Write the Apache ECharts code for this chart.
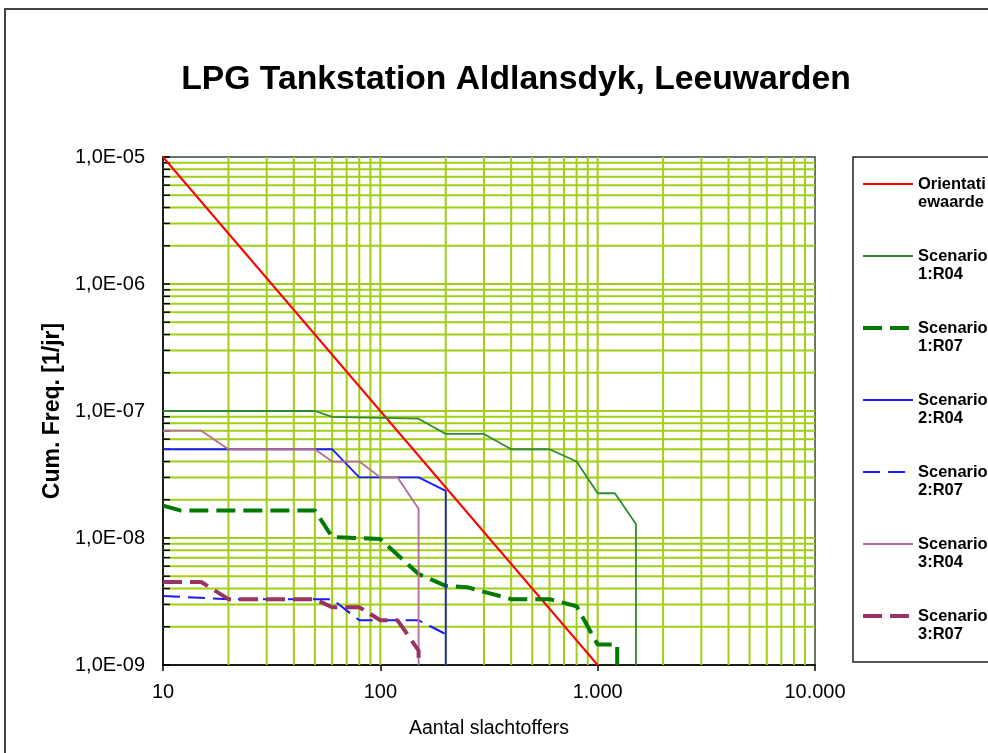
<!DOCTYPE html>
<html>
<head>
<meta charset="utf-8">
<script src="https://cdn.jsdelivr.net/npm/echarts@6/dist/echarts.min.js"></script>
<style>html,body{margin:0;padding:0;background:#fff;}#c{width:988px;height:753px;}</style>
</head>
<body>
<div id="c"></div>
<script>
// ---- data (aantal slachtoffers N, cumulatieve frequentie F [1/jr]) ----
const orientatiewaarde = [[10, 1e-5], [1000, 1e-9]];
const scenario1R04 = [[10, 1e-7], [50, 1e-7], [60, 9e-8], [150, 8.7e-8], [200, 6.6e-8], [300, 6.6e-8], [400, 5e-8], [600, 5e-8], [800, 4e-8], [1000, 2.25e-8], [1200, 2.25e-8], [1500, 1.29e-8], [1500, 1e-9]];
const scenario1R07 = [[10, 1.8e-8], [12, 1.65e-8], [50, 1.65e-8], [60, 1.02e-8], [100, 9.8e-9], [150, 5.2e-9], [200, 4.2e-9], [250, 4.1e-9], [400, 3.3e-9], [600, 3.3e-9], [800, 2.9e-9], [1000, 1.45e-9], [1230, 1.45e-9], [1230, 1e-9]];
const scenario2R04 = [[10, 5e-8], [60, 5e-8], [80, 3e-8], [150, 3e-8], [200, 2.35e-8], [200, 1e-9]];
const scenario2R07 = [[10, 3.5e-9], [20, 3.3e-9], [60, 3.3e-9], [80, 2.25e-9], [150, 2.25e-9], [200, 1.75e-9]];
const scenario3R04 = [[10, 7e-8], [15, 7e-8], [20, 5e-8], [50, 5e-8], [60, 4e-8], [80, 4e-8], [100, 3e-8], [120, 3e-8], [150, 1.7e-8], [150, 1e-9]];
const scenario3R07 = [[10, 4.5e-9], [15, 4.5e-9], [20, 3.3e-9], [50, 3.3e-9], [60, 2.85e-9], [80, 2.85e-9], [100, 2.25e-9], [120, 2.25e-9], [150, 1.3e-9], [150, 1e-9]];

const seriesNames = ['Orientatiewaarde', 'Scenario 1:R04', 'Scenario 1:R07', 'Scenario 2:R04', 'Scenario 2:R07', 'Scenario 3:R04', 'Scenario 3:R07'];
const legendLabels = ['Orientati\newaarde', 'Scenario\n1:R04', 'Scenario\n1:R07', 'Scenario\n2:R04', 'Scenario\n2:R07', 'Scenario\n3:R04', 'Scenario\n3:R07'];
const xTickLabels = ['10', '100', '1.000', '10.000'];
const yTickLabels = ['1,0E-09', '1,0E-08', '1,0E-07', '1,0E-06', '1,0E-05'];
const xDecades = [10, 100, 1000];
const yDecades = [1e-9, 1e-8, 1e-7, 1e-6];
const multipliers = [1, 2, 3, 4, 5, 6, 7, 8, 9];

const X_MIN = 10, X_MAX = 10000, Y_MIN = 1e-9, Y_MAX = 1e-5;
const FONT = '"Liberation Sans", Arial, sans-serif';
const GRID_COLOR = '#a0cf14';

// grid line values (axis scaffolding, not data)
const gridData = [];
xDecades.forEach(d => multipliers.forEach(m => { if (!(d === 10 && m === 1)) gridData.push([d * m, Y_MIN, 0]); }));
yDecades.forEach(d => multipliers.forEach(m => { if (!(d === 1e-9 && m === 1)) gridData.push([X_MIN, d * m, 1]); }));

const chart = echarts.init(document.getElementById('c'), null, {renderer: 'canvas'});

function lineSeries(name, data, color, width, type, z) {
  return {
    name: name, type: 'line', data: data, symbol: 'none', showSymbol: false,
    lineStyle: {color: color, width: width, type: type, cap: 'butt'},
    itemStyle: {color: color},
    z: z, animation: false, clip: true
  };
}

const option = {
  animation: false,
  backgroundColor: '#fff',
  title: {
    text: 'LPG Tankstation Aldlansdyk, Leeuwarden',
    left: 511, top: 58, textAlign: 'center',
    textStyle: {fontFamily: FONT, fontSize: 33.7, fontWeight: 'bold', color: '#000'}
  },
  graphic: [{
    type: 'rect', silent: true, z: 100,
    shape: {x: 5, y: 9, width: 1000, height: 800},
    style: {fill: 'none', stroke: '#444', lineWidth: 2}
  }],
  grid: {left: 163, top: 157, width: 652, height: 508, show: true, borderColor: '#3a4a3a', borderWidth: 1.5, backgroundColor: 'transparent'},
  xAxis: {
    type: 'log', logBase: 10, min: X_MIN, max: X_MAX,
    name: 'Aantal slachtoffers', nameLocation: 'middle', nameGap: 54,
    nameTextStyle: {fontFamily: FONT, fontSize: 19.5, color: '#000'},
    axisLine: {show: true, onZero: false, lineStyle: {color: '#000', width: 1.5}},
    axisTick: {show: true, inside: false, length: 6, lineStyle: {color: '#000', width: 1.5}},
    axisLabel: {
      fontFamily: FONT, fontSize: 20, color: '#000', margin: 17,
      formatter: v => xTickLabels[Math.round(Math.log10(v)) - 1]
    },
    splitLine: {show: false}, minorTick: {show: false}, minorSplitLine: {show: false}
  },
  yAxis: {
    type: 'log', logBase: 10, min: Y_MIN, max: Y_MAX,
    name: 'Cum. Freq. [1/jr]', nameLocation: 'middle', nameGap: 98,
    nameTextStyle: {fontFamily: FONT, fontSize: 23, fontWeight: 'bold', color: '#000'},
    axisLine: {show: true, onZero: false, lineStyle: {color: '#000', width: 1.5}},
    axisTick: {show: true, inside: true, length: 7, lineStyle: {color: '#000', width: 1.5}},
    axisLabel: {
      fontFamily: FONT, fontSize: 20, color: '#000', margin: 18,
      formatter: v => yTickLabels[Math.round(Math.log10(v)) + 9]
    },
    splitLine: {show: false}, minorTick: {show: false}, minorSplitLine: {show: false}
  },
  legend: {
    orient: 'vertical', left: 853, top: 157,
    padding: [0, 40, 19, 8],
    itemWidth: 50, itemHeight: 14, itemGap: 18,
    borderColor: '#222', borderWidth: 1.5, backgroundColor: '#fff',
    itemStyle: {opacity: 0},
    lineStyle: {width: 'inherit', type: 'inherit', cap: 'butt'},
    textStyle: {fontFamily: FONT, fontSize: 16.5, fontWeight: 'bold', color: '#000', lineHeight: 18},
    formatter: name => '\n' + legendLabels[seriesNames.indexOf(name)],
    data: seriesNames
  },
  series: [
    {
      type: 'custom', name: 'grid', silent: true, z: 1, clip: false,
      coordinateSystem: 'cartesian2d',
      renderItem: function (params, api) {
        const t = api.value(2);
        if (t === 0) {
          const x = api.value(0);
          const p1 = api.coord([x, Y_MIN]), p2 = api.coord([x, Y_MAX]);
          return {type: 'line', shape: {x1: p1[0], y1: p1[1], x2: p2[0], y2: p2[1]}, style: {stroke: GRID_COLOR, lineWidth: 2}};
        }
        const y = api.value(1);
        const p1 = api.coord([X_MIN, y]), p2 = api.coord([X_MAX, y]);
        return {type: 'group', children: [
          {type: 'line', shape: {x1: p1[0], y1: p1[1], x2: p2[0], y2: p2[1]}, style: {stroke: GRID_COLOR, lineWidth: 2}},
          {type: 'line', z2: 5, shape: {x1: p1[0], y1: p1[1], x2: p1[0] + 7, y2: p1[1]}, style: {stroke: '#000', lineWidth: 1.5}}
        ]};
      },
      data: gridData
    },
    lineSeries(seriesNames[0], orientatiewaarde, '#ff0000', 2, 'solid', 5),
    lineSeries(seriesNames[1], scenario1R04, '#2e8b2e', 1.8, 'solid', 6),
    lineSeries(seriesNames[2], scenario1R07, '#007a00', 4, [19, 8], 7),
    lineSeries(seriesNames[3], scenario2R04, '#1a1aff', 1.8, 'solid', 8),
    lineSeries(seriesNames[4], scenario2R07, '#1a1aff', 2, [17, 8], 9),
    lineSeries(seriesNames[5], scenario3R04, '#b56a98', 1.8, 'solid', 10),
    lineSeries(seriesNames[6], scenario3R07, '#993366', 4, [19, 8], 11)
  ]
};
chart.setOption(option);
</script>
</body>
</html>
